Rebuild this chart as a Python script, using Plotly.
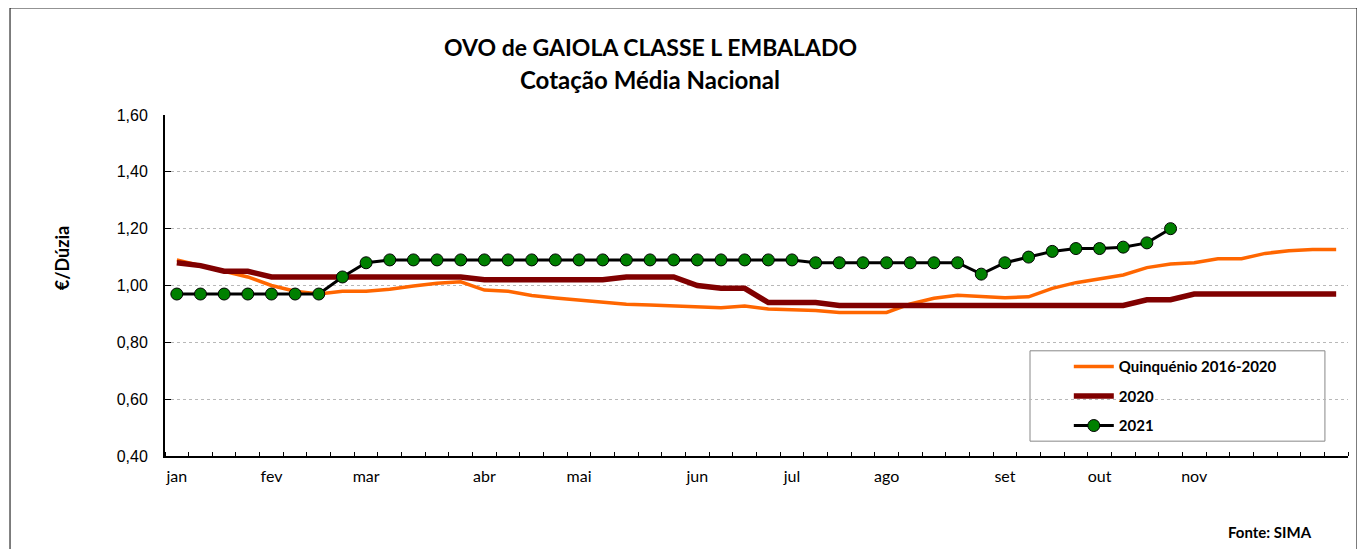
import plotly.graph_objects as go

weeks = list(range(50))
month_pos = [0, 4, 8, 13, 17, 22, 26, 30, 35, 39, 43]
month_labels = ["jan", "fev", "mar", "abr", "mai", "jun", "jul", "ago", "set", "out", "nov"]

quinquenio = [1.09, 1.07, 1.05, 1.03, 1.00, 0.98, 0.97, 0.98, 0.98, 0.987,
              0.998, 1.008, 1.013, 0.984, 0.98, 0.965, 0.956, 0.948, 0.941, 0.934,
              0.931, 0.929, 0.924, 0.922, 0.928, 0.917, 0.915, 0.912, 0.905, 0.905,
              0.905, 0.935, 0.955, 0.966, 0.963, 0.957, 0.96, 0.99, 1.01, 1.022,
              1.037, 1.063, 1.076, 1.08, 1.094, 1.094, 1.113, 1.122, 1.127, 1.127]

y2020 = [1.08, 1.07, 1.05, 1.05, 1.03, 1.03, 1.03, 1.03, 1.03, 1.03,
         1.03, 1.03, 1.03, 1.02, 1.02, 1.02, 1.02, 1.02, 1.02, 1.03,
         1.03, 1.03, 1.00, 0.99, 0.99, 0.94, 0.94, 0.94, 0.93, 0.93,
         0.93, 0.93, 0.93, 0.93, 0.93, 0.93, 0.93, 0.93, 0.93, 0.93,
         0.93, 0.95, 0.95, 0.97, 0.97, 0.97, 0.97, 0.97, 0.97, 0.97]

y2021 = [0.97, 0.97, 0.97, 0.97, 0.97, 0.97, 0.97, 1.03, 1.08, 1.09,
         1.09, 1.09, 1.09, 1.09, 1.09, 1.09, 1.09, 1.09, 1.09, 1.09,
         1.09, 1.09, 1.09, 1.09, 1.09, 1.09, 1.09, 1.08, 1.08, 1.08,
         1.08, 1.08, 1.08, 1.08, 1.04, 1.08, 1.10, 1.12, 1.13, 1.13,
         1.135, 1.15, 1.20]

fig = go.Figure()
fig.add_trace(go.Scatter(x=weeks, y=quinquenio, mode="lines", name="<b>Quinquénio 2016-2020</b>",
                         legendgroup="a", line=dict(color="#FF6600", width=3.5)))
fig.add_trace(go.Scatter(x=weeks, y=y2020, mode="lines", name="<b>2020</b>",
                         legendgroup="b", line=dict(color="#800000", width=5.5)))
fig.add_trace(go.Scatter(x=weeks[:len(y2021)], y=y2021, mode="lines+markers", name="<b>2021</b>",
                         legendgroup="c", line=dict(color="black", width=3),
                         marker=dict(color="#008000", size=12, line=dict(color="black", width=1))))

fig.update_layout(
    width=1357, height=541,
    margin=dict(l=157, r=17, t=107, b=93),
    paper_bgcolor="white", plot_bgcolor="white",
    separators=",.",
    showlegend=True,
    legend=dict(x=0.764, y=0.31, xanchor="left", yanchor="top",
                bgcolor="rgba(0,0,0,0)", borderwidth=0,
                tracegroupgap=7, traceorder="grouped",
                font=dict(family="Lato", size=15, color="black"),
                itemwidth=40),
    xaxis=dict(range=[-0.5, 49.5], tickmode="array", tickvals=month_pos, ticktext=month_labels,
               ticks="", showgrid=False, zeroline=False,
               showline=True, linecolor="black", linewidth=2,
               tickfont=dict(family="Lato", size=16, color="black"),
               ticklabelstandoff=5,
               minor=dict(tickmode="array", tickvals=[i - 0.5 for i in range(51)],
                          ticks="inside", ticklen=4, tickcolor="black", tickwidth=1, showgrid=False)),
    yaxis=dict(range=[0.4, 1.6], tickmode="linear", tick0=0.4, dtick=0.2, tickformat=".2f",
               ticks="inside", ticklen=6, tickcolor="black", tickwidth=1,
               showgrid=True, gridcolor="#b8b8b8", griddash="dot", gridwidth=1,
               zeroline=False, showline=True, linecolor="black", linewidth=2,
               tickfont=dict(family="Liberation Sans", size=16, color="black"),
               ticklabelstandoff=12),
    shapes=[
        dict(type="rect", xref="paper", yref="paper", x0=-0.131, x1=1.0076, y0=-0.30, y1=1.314,
             line=dict(color="black", width=1), fillcolor="rgba(0,0,0,0)", layer="below"),
        dict(type="rect", xref="paper", yref="paper", x0=0.7312, x1=0.9805, y0=0.0435, y1=0.3085,
             line=dict(color="#888888", width=1), fillcolor="white", layer="below"),
    ],
    annotations=[
        dict(text="<b>OVO de GAIOLA CLASSE L EMBALADO</b>", xref="paper", yref="paper",
             x=0.41, y=1.199, xanchor="center", yanchor="middle", showarrow=False,
             font=dict(family="Lato", size=23, color="black")),
        dict(text="<b>Cotação Média Nacional</b>", xref="paper", yref="paper",
             x=0.41, y=1.103, xanchor="center", yanchor="middle", showarrow=False,
             font=dict(family="Lato", size=24, color="black")),
        dict(text="<b>€/Dúzia</b>", xref="paper", yref="paper", x=-0.087, y=0.58,
             xanchor="center", yanchor="middle", textangle=-90, showarrow=False,
             font=dict(family="Lato", size=18, color="black")),
        dict(text="<b>Fonte: SIMA</b>", xref="paper", yref="paper", x=0.934, y=-0.223,
             xanchor="center", yanchor="middle", showarrow=False,
             font=dict(family="Lato", size=15, color="black")),
    ],
)

fig.write_html("out.html")
